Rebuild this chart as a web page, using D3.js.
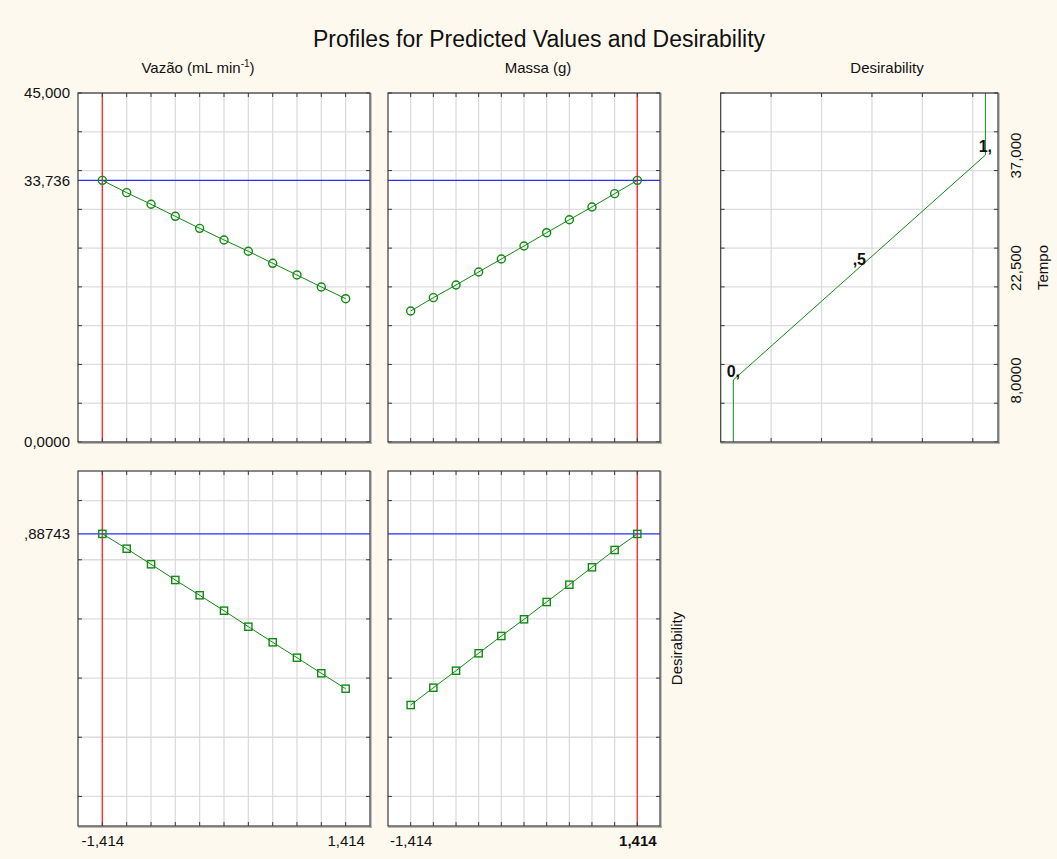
<!DOCTYPE html>
<html><head><meta charset="utf-8">
<script src="https://cdn.jsdelivr.net/npm/d3@7"></script>
<style>
html,body{margin:0;padding:0;background:#fef9ee;}
svg{display:block;font-family:"Liberation Sans",Arial,sans-serif;}
</style></head>
<body>
<svg id="c" width="1057" height="859"></svg>
<script>
// ---- data ----
const xLevels = [-1.414, -1.131, -0.848, -0.566, -0.283, 0, 0.283, 0.566, 0.848, 1.131, 1.414];
const currentX = [-1.414, 1.414];
const tempoVazao = [33.736, 32.15, 30.65, 29.10, 27.55, 26.05, 24.59, 23.04, 21.53, 19.99, 18.48];
const tempoMassa = [16.89, 18.61, 20.24, 21.92, 23.60, 25.27, 26.99, 28.66, 30.30, 32.02, 33.736];
const desVazao = [0.88743, 0.8374, 0.7847, 0.7316, 0.6799, 0.6278, 0.5737, 0.5210, 0.4689, 0.4162, 0.3641];
const desMassa = [0.309, 0.3675, 0.425, 0.4838, 0.5423, 0.5987, 0.6572, 0.7157, 0.7745, 0.833, 0.88743];
const predictedTempo = 33.736;
const predictedDes = 0.88743;
const tempoTicks = [0, 5, 10, 15, 20, 25, 30, 35, 40, 45];
const tempoLabelVals = [45, 33.736, 0];
const tempoLabelText = ["45,000", "33,736", "0,0000"];
const desTicks = [0, 0.2, 0.4, 0.6, 0.8, 1.0];
const desLabelVals = [0.88743];
const desLabelText = [",88743"];
const xLabelVals = [-1.414, 1.414];
const xLabelText = ["-1,414", "1,414"];
// desirability function of Tempo
const dfTempo = [0, 8, 37, 45];
const dfDes = [0, 0, 1, 1];
const dfLabelTempo = [8, 22.5, 37];
const dfLabelDes = [0, 0.5, 1];
const dfLabelText = ["0,", ",5", "1,"];
const dfTempoLabelVals = [8, 22.5, 37];
const dfTempoLabelText = ["8,0000", "22,500", "37,000"];
const dfGrid = [0.15, 0.35, 0.55, 0.75, 0.95];

// ---- layout ----
const svg = d3.select("#c");
const cols = [[78, 370], [388, 660]];
const rows = [[93, 442], [471, 826]];
const rightCol = [720.7, 998];
const GREEN = "#118a11", RED = "#ff3030", BLUE = "#2b2bff", GRID = "#dcdcdc", FRAME = "#3a3a3a";
const FS = 15, FF = "Liberation Sans, Arial, sans-serif";

svg.append("text").attr("x", 539).attr("y", 47).attr("text-anchor", "middle")
  .attr("font-size", 23).attr("fill", "#111").text("Profiles for Predicted Values and Desirability");

// column titles
const t1 = svg.append("text").attr("x", 198).attr("y", 73).attr("text-anchor", "middle").attr("font-size", FS).attr("fill", "#111");
t1.append("tspan").text("Vazão (mL min");
t1.append("tspan").attr("dy", -6).attr("font-size", 10).text("-1");
t1.append("tspan").attr("dy", 6).text(")");
svg.append("text").attr("x", 538).attr("y", 73).attr("text-anchor", "middle").attr("font-size", FS).attr("fill", "#111").text("Massa (g)");
svg.append("text").attr("x", 887).attr("y", 73).attr("text-anchor", "middle").attr("font-size", FS).attr("fill", "#111").text("Desirability");

function panel(xr, yr, xs, ys, xGrid, yGrid) {
  const g = svg.append("g");
  g.append("rect").attr("x", xr[0]).attr("y", yr[0]).attr("width", xr[1]-xr[0]).attr("height", yr[1]-yr[0]).attr("fill", "#fff");
  g.selectAll(".vg").data(xGrid).join("line").attr("x1", d=>xs(d)).attr("x2", d=>xs(d)).attr("y1", yr[0]).attr("y2", yr[1])
    .attr("stroke", GRID).attr("stroke-width", 1.3);
  g.selectAll(".hg").data(yGrid).join("line").attr("y1", d=>ys(d)).attr("y2", d=>ys(d)).attr("x1", xr[0]).attr("x2", xr[1])
    .attr("stroke", GRID).attr("stroke-width", 1.3);
  return g;
}
function frame(g, xr, yr, xs, ys, xGrid, yGrid) {
  const tk = 4;
  xGrid.forEach(d => {
    g.append("line").attr("x1", xs(d)).attr("x2", xs(d)).attr("y1", yr[0]).attr("y2", yr[0]+tk).attr("stroke", FRAME);
    g.append("line").attr("x1", xs(d)).attr("x2", xs(d)).attr("y1", yr[1]).attr("y2", yr[1]-tk).attr("stroke", FRAME);
  });
  yGrid.forEach(d => {
    g.append("line").attr("y1", ys(d)).attr("y2", ys(d)).attr("x1", xr[0]).attr("x2", xr[0]+tk).attr("stroke", FRAME);
    g.append("line").attr("y1", ys(d)).attr("y2", ys(d)).attr("x1", xr[1]).attr("x2", xr[1]-tk).attr("stroke", FRAME);
  });
  g.append("rect").attr("x", xr[0]).attr("y", yr[0]).attr("width", xr[1]-xr[0]).attr("height", yr[1]-yr[0])
    .attr("fill", "none").attr("stroke", FRAME).attr("stroke-width", 1.2);
  g.append("line").attr("x1", xr[1]+0.8).attr("x2", xr[1]+0.8).attr("y1", yr[0]).attr("y2", yr[1]+1.5).attr("stroke", "#777").attr("stroke-width", 1.2);
  g.append("line").attr("x1", xr[0]).attr("x2", xr[1]+1.5).attr("y1", yr[1]+0.8).attr("y2", yr[1]+0.8).attr("stroke", "#777").attr("stroke-width", 1.2);
}

const yTop = d3.scaleLinear().domain([0, 45]).range([rows[0][1], rows[0][0]]);
const yBot = d3.scaleLinear().domain([-0.1, 1.1]).range([rows[1][1], rows[1][0]]);

const profiles = [
  [tempoVazao, desVazao],
  [tempoMassa, desMassa]
];

cols.forEach((cr, ci) => {
  const xs = d3.scaleLinear().domain([-1.697, 1.697]).range(cr);
  [0, 1].forEach(ri => {
    const yr = rows[ri];
    const ys = ri === 0 ? yTop : yBot;
    const yGrid = ri === 0 ? tempoTicks : desTicks;
    const vals = profiles[ci][ri];
    const g = panel(cr, yr, xs, ys, xLevels, yGrid);
    g.append("line").attr("x1", xs(currentX[ci])).attr("x2", xs(currentX[ci])).attr("y1", yr[0]).attr("y2", yr[1])
      .attr("stroke", RED).attr("stroke-width", 1.4);
    const pv = ri === 0 ? predictedTempo : predictedDes;
    g.append("line").attr("x1", cr[0]).attr("x2", cr[1]).attr("y1", ys(pv)).attr("y2", ys(pv))
      .attr("stroke", BLUE).attr("stroke-width", 1.4);
    const pts = xLevels.map((x, i) => [x, vals[i]]);
    g.append("path").attr("d", d3.line().x(d=>xs(d[0])).y(d=>ys(d[1]))(pts))
      .attr("fill", "none").attr("stroke", GREEN).attr("stroke-width", 1);
    if (ri === 0) {
      g.selectAll(".pt").data(pts).join("circle").attr("cx", d=>xs(d[0])).attr("cy", d=>ys(d[1])).attr("r", 4)
        .attr("fill", "none").attr("stroke", GREEN).attr("stroke-width", 1.4);
    } else {
      g.selectAll(".pt").data(pts).join("rect").attr("x", d=>xs(d[0])-3.6).attr("y", d=>ys(d[1])-3.6)
        .attr("width", 7.2).attr("height", 7.2)
        .attr("fill", "none").attr("stroke", GREEN).attr("stroke-width", 1.4);
    }
    frame(g, cr, yr, xs, ys, xLevels, yGrid);
    if (ci === 0) {
      const ax = ri === 0
        ? d3.axisLeft(ys).tickValues(tempoLabelVals).tickFormat((d, i) => tempoLabelText[i])
        : d3.axisLeft(ys).tickValues(desLabelVals).tickFormat((d, i) => desLabelText[i]);
      const ag = svg.append("g").attr("transform", `translate(${cr[0]-8},0)`).call(ax.tickSize(0).tickPadding(0));
      ag.select(".domain").remove();
      ag.attr("font-size", FS).attr("font-family", FF);
      ag.selectAll("text").attr("fill", "#111");
    }
    if (ri === 1) {
      const ax = d3.axisBottom(xs).tickValues(xLabelVals).tickFormat((d, i) => xLabelText[i]).tickSize(0).tickPadding(0);
      const ag = svg.append("g").attr("transform", `translate(0,${yr[1]+9})`).call(ax);
      ag.select(".domain").remove();
      ag.attr("font-size", FS).attr("font-family", FF);
      ag.selectAll("text").attr("fill", "#111")
        .attr("font-weight", (d) => (ci === 1 && d === currentX[1]) ? "bold" : "normal");
    }
  });
});

// right-side desirability function panel
{
  const xr = rightCol, yr = rows[0];
  const xs = d3.scaleLinear().domain([-0.05, 1.05]).range(xr);
  const ys = yTop;
  const g = panel(xr, yr, xs, ys, dfGrid, tempoTicks);
  const pts = dfTempo.map((t, i) => [dfDes[i], t]);
  g.append("path").attr("d", d3.line().x(d=>xs(d[0])).y(d=>ys(d[1]))(pts))
    .attr("fill", "none").attr("stroke", GREEN).attr("stroke-width", 1);
  frame(g, xr, yr, xs, ys, dfGrid, tempoTicks);
  g.selectAll(".dl").data(dfLabelText).join("text")
    .attr("x", (d, i) => xs(dfLabelDes[i])).attr("y", (d, i) => ys(dfLabelTempo[i]) - 3)
    .attr("text-anchor", "middle").attr("font-size", 16).attr("font-weight", "bold").attr("fill", "#111").text(d => d);
  const ax = d3.axisRight(ys).tickValues(dfTempoLabelVals).tickFormat((d, i) => dfTempoLabelText[i]).tickSize(0).tickPadding(0);
  const ag = svg.append("g").attr("transform", `translate(${xr[1]+17},0)`).call(ax);
  ag.select(".domain").remove();
  ag.attr("font-size", FS).attr("font-family", FF);
  ag.selectAll("text").attr("fill", "#111")
    .attr("transform", "rotate(-90)").attr("x", 0).attr("dy", 0).attr("text-anchor", "middle").attr("dominant-baseline", "central");
  svg.append("text").attr("transform", `translate(1048,${(yr[0]+yr[1])/2}) rotate(-90)`).attr("text-anchor", "middle")
    .attr("font-size", FS).attr("fill", "#111").text("Tempo");
}
svg.append("text").attr("transform", `translate(682,${(rows[1][0]+rows[1][1])/2}) rotate(-90)`).attr("text-anchor", "middle")
  .attr("font-size", FS).attr("fill", "#111").text("Desirability");
</script>
</body></html>
